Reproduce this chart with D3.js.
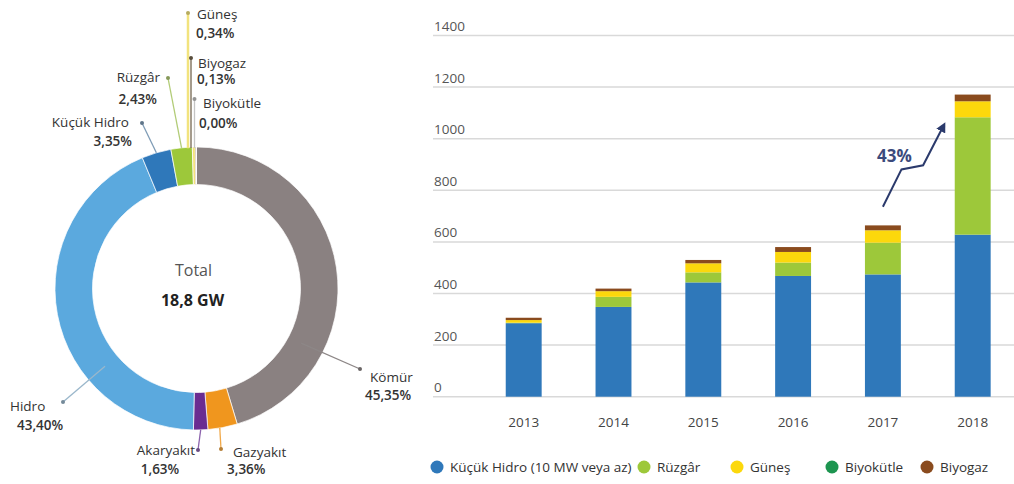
<!DOCTYPE html>
<html>

<head>
    <meta charset="UTF-8" />
    <title>Kurulu Güç</title>
    <script src="https://d3js.org/d3.v7.min.js"></script>
    <style>
        body {
            margin: 0;
            background: #fff;
        }

        svg text {
            font-family: "Open Sans", "Noto Sans", sans-serif;
        }

        .grid line {
            stroke: #d9d9d9;
            stroke-width: 1.5px;
        }

        .ytick {
            font-size: 13.5px;
            fill: #555;
        }

        .xtick {
            font-size: 13.5px;
            fill: #444;
        }

        .lbl-name {
            font-size: 13.5px;
            fill: #333;
        }

        .lbl-val {
            font-size: 13.5px;
            font-weight: 600;
            fill: #333;
        }

        .legend text {
            font-size: 13.5px;
            fill: #333;
        }
    </style>
</head>

<body>
    <svg id="chart" width="1014" height="484"></svg>

    <script>
        // ---- donut data (share of installed capacity, %)
        var sources = ['Kömür', 'Gazyakıt', 'Akaryakıt', 'Hidro', 'Küçük Hidro', 'Rüzgâr', 'Güneş', 'Biyogaz', 'Biyokütle'];
        var shares = [45.35, 3.36, 1.63, 43.40, 3.35, 2.43, 0.34, 0.13, 0.00];
        var sourceColors = ['#8a8181', '#f0961e', '#6a2c91', '#5ba9de', '#2f78ba', '#9dc83a', '#f3e27a', '#7a5230', '#cccccc'];
        var totalLabel = '18,8 GW';

        // ---- stacked bars (MW)
        var years = ['2013', '2014', '2015', '2016', '2017', '2018'];
        var kucukHidro = [285, 348, 443, 468, 474, 628];
        var ruzgar = [2, 39, 39, 52, 123, 455];
        var gunes = [10, 22, 35, 41, 48, 62];
        var biyokutle = [0, 0, 0, 0, 0, 0];
        var biyogaz = [9, 10, 13, 19, 19, 26];
        var seriesNames = ['Küçük Hidro (10 MW veya az)', 'Rüzgâr', 'Güneş', 'Biyokütle', 'Biyogaz'];
        var seriesColors = ['#2f78ba', '#9dc83a', '#fcd80c', '#1d9550', '#8a4b1e'];
        var yTicks = [0, 200, 400, 600, 800, 1000, 1200, 1400];
        var growthLabel = '43%';

        var svg = d3.select('#chart');

        // ================= donut =================
        var cx = 196.5, cy = 288.5, rOut = 141.5, rIn = 104;
        var donut = svg.append('g').attr('transform', 'translate(' + cx + ',' + cy + ')');

        var pie = d3.pie().sort(null).value(function (d) { return d; });
        var arcs = pie(shares);
        var arc = d3.arc().innerRadius(rIn).outerRadius(rOut);

        donut.selectAll('path.slice')
            .data(arcs)
            .enter()
            .append('path')
            .attr('class', 'slice')
            .attr('d', arc)
            .attr('fill', function (d, i) { return sourceColors[i]; })
            .attr('stroke', '#fff')
            .attr('stroke-width', 0.7);

        donut.append('text')
            .attr('x', -3).attr('y', -13)
            .attr('text-anchor', 'middle')
            .style('font-size', '16px').style('fill', '#555')
            .text('Total');
        donut.append('text')
            .attr('x', -4).attr('y', 17)
            .attr('text-anchor', 'middle')
            .style('font-size', '16px').style('font-weight', 'bold').style('fill', '#222')
            .text(totalLabel);

        // label placement: dot position, where the leader leaves the ring, text spots
        var labelLayout = {
            'Kömür': { dot: [360, 369], t: 0.72, r: 118, line: '#8d8787', name: [370, 382, 'start'], val: [365, 400, 'start'] },
            'Gazyakıt': { dot: [221, 449], t: 0.6, r: rOut, line: '#f0a848', name: [233, 457, 'start'], val: [227, 474, 'start'] },
            'Akaryakıt': { dot: [198, 450], t: 0.5, r: rOut, line: '#8c64ad', name: [195, 455, 'end'], val: [160, 474, 'middle'] },
            'Hidro': { dot: [63, 402], t: 0.31, r: 120, line: '#9ab7cb', name: [10, 411, 'start'], val: [17, 430, 'start'] },
            'Küçük Hidro': { dot: [142, 123], t: 0.5, r: rOut, line: '#7f9cb6', name: [129, 127, 'end'], val: [132, 146, 'end'] },
            'Rüzgâr': { dot: [168, 78], t: 0.5, r: rOut, line: '#b2cc77', name: [160, 82, 'end'], val: [157, 104, 'end'] },
            'Güneş': { dot: [188, 13], vertical: true, line: '#f2e37e', width: 2.5, name: [197, 19, 'start'], val: [196, 38, 'start'] },
            'Biyogaz': { dot: [191, 58], vertical: true, line: '#756650', name: [198, 68, 'start'], val: [197, 84, 'start'] },
            'Biyokütle': { dot: [194.5, 99], vertical: true, line: '#c4c4c4', name: [203, 108, 'start'], val: [199, 128, 'start'] }
        };

        function fmtPct(v) {
            return v.toFixed(2).replace('.', ',') + '%';
        }

        var labels = svg.append('g');
        arcs.forEach(function (a, i) {
            var L = labelLayout[sources[i]];
            var sx, sy;
            if (L.vertical) {
                sx = L.dot[0];
                sy = cy - Math.sqrt(rOut * rOut - (sx - cx) * (sx - cx)) + 1;
            } else {
                var ang = a.startAngle + (a.endAngle - a.startAngle) * L.t;
                sx = cx + L.r * Math.sin(ang);
                sy = cy - L.r * Math.cos(ang);
            }
            labels.append('line')
                .attr('x1', sx).attr('y1', sy)
                .attr('x2', L.dot[0]).attr('y2', L.dot[1])
                .attr('stroke', L.line)
                .attr('stroke-width', L.width || 1.3);
            labels.append('circle')
                .attr('cx', L.dot[0]).attr('cy', L.dot[1])
                .attr('r', 2)
                .attr('fill', d3.color(L.line).darker(0.8));
            labels.append('text')
                .attr('class', 'lbl-name')
                .attr('x', L.name[0]).attr('y', L.name[1])
                .attr('text-anchor', L.name[2])
                .text(sources[i]);
            labels.append('text')
                .attr('class', 'lbl-val')
                .attr('x', L.val[0]).attr('y', L.val[1])
                .attr('text-anchor', L.val[2])
                .text(fmtPct(shares[i]));
        });

        // ================= stacked bars =================
        var x = d3.scaleBand()
            .domain(years)
            .range([478.8, 1017.6])
            .paddingInner(0.6)
            .paddingOuter(0.3);

        var y = d3.scaleLinear()
            .domain([0, 1400])
            .range([396.7, 35.5]);

        var grid = svg.append('g').attr('class', 'grid');
        grid.selectAll('line')
            .data(yTicks)
            .enter()
            .append('line')
            .attr('x1', 433).attr('x2', 1014)
            .attr('y1', function (d) { return y(d); })
            .attr('y2', function (d) { return y(d); });

        svg.append('g').selectAll('text')
            .data(yTicks)
            .enter()
            .append('text')
            .attr('class', 'ytick')
            .attr('x', 434)
            .attr('y', function (d) { return y(d) - 4.5; })
            .text(function (d) { return d; });

        var rows = years.map(function (yr, i) {
            return { year: yr, k0: kucukHidro[i], k1: ruzgar[i], k2: gunes[i], k3: biyokutle[i], k4: biyogaz[i] };
        });
        var stack = d3.stack().keys(['k0', 'k1', 'k2', 'k3', 'k4']);
        var layers = stack(rows);

        svg.append('g').selectAll('g')
            .data(layers)
            .enter()
            .append('g')
            .attr('fill', function (d, i) { return seriesColors[i]; })
            .selectAll('rect')
            .data(function (d) { return d; })
            .enter()
            .append('rect')
            .attr('x', function (d) { return x(d.data.year); })
            .attr('width', x.bandwidth())
            .attr('y', function (d) { return y(d[1]); })
            .attr('height', function (d) { return y(d[0]) - y(d[1]); });

        svg.append('g').selectAll('text')
            .data(years)
            .enter()
            .append('text')
            .attr('class', 'xtick')
            .attr('x', function (d) { return x(d) + x.bandwidth() / 2; })
            .attr('y', 426.5)
            .attr('text-anchor', 'middle')
            .text(function (d) { return d; });

        // growth arrow between 2017 and 2018: [fraction of a step past 2017, value]
        var arrowPts = [[0, 736], [0.207, 881], [0.448, 897], [0.675, 1050]];
        var step = x.step();
        var x17 = x('2017') + x.bandwidth() / 2;

        svg.append('defs').append('marker')
            .attr('id', 'head')
            .attr('viewBox', '0 0 10 10')
            .attr('refX', 6).attr('refY', 5)
            .attr('markerWidth', 5).attr('markerHeight', 5)
            .attr('orient', 'auto')
            .append('path')
            .attr('d', 'M0,0 L10,5 L0,10 z')
            .attr('fill', '#2b3a6c');

        svg.append('path')
            .attr('d', d3.line()(arrowPts.map(function (p) { return [x17 + p[0] * step, y(p[1])]; })))
            .attr('fill', 'none')
            .attr('stroke', '#2b3a6c')
            .attr('stroke-width', 2)
            .attr('marker-end', 'url(#head)');

        svg.append('text')
            .attr('x', x17 + 0.128 * step)
            .attr('y', y(933) + 6.5)
            .attr('text-anchor', 'middle')
            .style('font-size', '17px').style('font-weight', 'bold').style('fill', '#3b4a7c')
            .text(growthLabel);

        // legend
        var legendX = [437, 644, 737, 832, 927];
        var legend = svg.append('g').attr('class', 'legend');
        seriesNames.forEach(function (n, i) {
            legend.append('circle')
                .attr('cx', legendX[i]).attr('cy', 467)
                .attr('r', 6.5)
                .attr('fill', seriesColors[i]);
            legend.append('text')
                .attr('x', legendX[i] + 13).attr('y', 471.5)
                .text(n);
        });
    </script>
</body>

</html>
